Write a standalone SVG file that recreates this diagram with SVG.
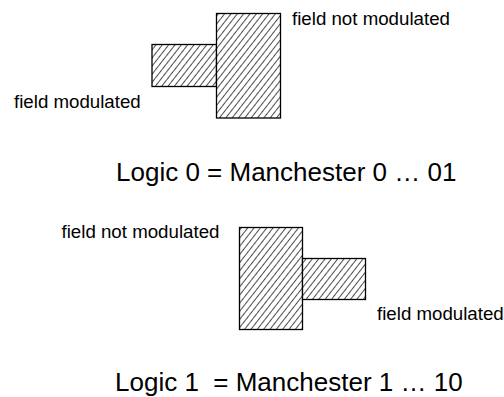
<svg xmlns="http://www.w3.org/2000/svg" width="504" height="397" viewBox="0 0 504 397">
<style>
.blk{fill:url(#hatch);stroke:#000;stroke-width:1.3}
.lbl{font-family:"Liberation Sans",Arial,sans-serif;font-size:18.7px;fill:#000}
.big{font-family:"Liberation Sans",Arial,sans-serif;font-size:26px;fill:#000;white-space:pre}
</style>
<defs>
<pattern id="hatch" patternUnits="userSpaceOnUse" width="5" height="10" patternTransform="rotate(38)">
<rect width="5" height="10" fill="#fff"/>
<line x1="0.5" y1="0" x2="0.5" y2="10" stroke="#000" stroke-width="0.7"/>
</pattern>
</defs>
<rect width="504" height="397" fill="#fff"/>
<g id="logic0">
<rect id="l0-mod" class="blk" x="152" y="44.5" width="64.5" height="42"/>
<rect id="l0-notmod" class="blk" x="216.5" y="13.5" width="64" height="104.5"/>
<text class="lbl" x="292" y="25">field not modulated</text>
<text class="lbl" x="14" y="108">field modulated</text>
<text class="big" x="116" y="180.5">Logic 0 = Manchester 0 … 01</text>
</g>
<g id="logic1">
<rect id="l1-notmod" class="blk" x="239.5" y="227.5" width="63" height="102"/>
<rect id="l1-mod" class="blk" x="302.5" y="258.5" width="63" height="41"/>
<text class="lbl" x="61.5" y="238">field not modulated</text>
<text class="lbl" x="377" y="320">field modulated</text>
<text class="big" x="115" y="391" xml:space="preserve">Logic 1  = Manchester 1 … 10</text>
</g>
</svg>
